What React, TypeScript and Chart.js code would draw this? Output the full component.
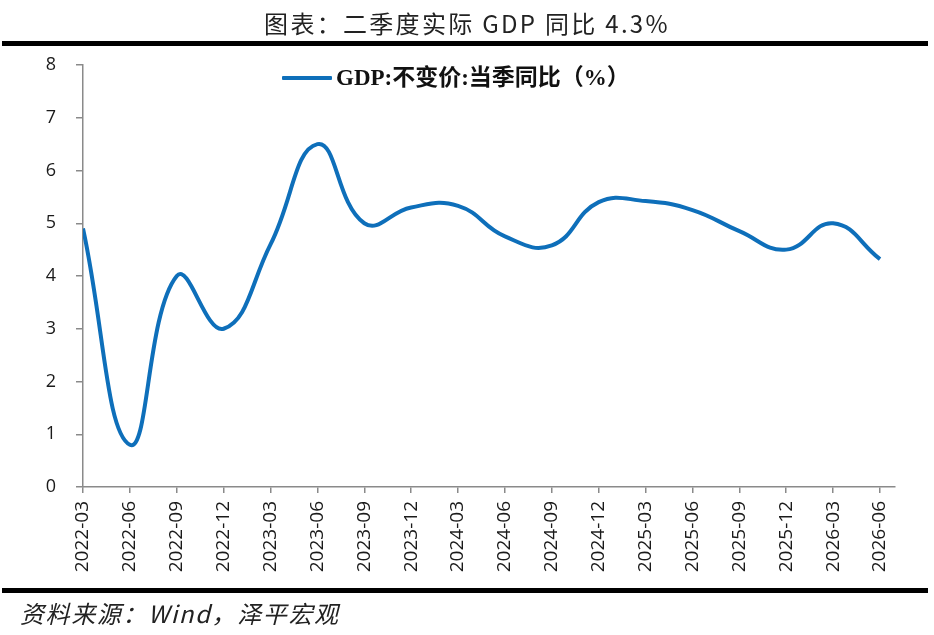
import React, { useEffect, useRef } from 'react';
import Chart from 'chart.js/auto';

// quarterly labels shown on the x axis
const quarters = [
  '2022-03', '2022-06', '2022-09', '2022-12',
  '2023-03', '2023-06', '2023-09', '2023-12',
  '2024-03', '2024-06', '2024-09', '2024-12',
  '2025-03', '2025-06', '2025-09', '2025-12',
  '2026-03', '2026-06',
];
// GDP:不变价:当季同比 (%)
const gdpYoy = [
  4.9, 0.8, 4.0, 3.0,
  4.6, 6.5, 5.0, 5.3,
  5.33, 4.75, 4.58, 5.4,
  5.42, 5.25, 4.85, 4.5,
  5.0, 4.32,
];
const yTicks = [0, 1, 2, 3, 4, 5, 6, 7, 8];

const TITLE = '图表：二季度实际 GDP 同比 4.3%';
const LEGEND = 'GDP:不变价:当季同比（%）';
const SOURCE = '资料来源：Wind，泽平宏观';

const BLUE = '#0E6FBA';
const AXIS = '#8a8a8a';
const CJK = '"Noto Sans CJK SC", "Noto Sans", sans-serif';

export default function App() {
  const canvasRef = useRef<HTMLCanvasElement | null>(null);

  useEffect(() => {
    document.body.style.margin = '0';
    const ctx = canvasRef.current!.getContext('2d')!;
    const tickFont = { family: '"Open Sans", "Noto Sans", sans-serif', size: 18 };
    const chart = new Chart(ctx, {
      type: 'line',
      data: {
        datasets: [{
          label: LEGEND,
          data: gdpYoy.map((v, i) => ({ x: i, y: v })),
          borderColor: BLUE,
          borderWidth: 4,
          pointRadius: 0,
          tension: 0.45,
          fill: false,
        }],
      },
      options: {
        animation: false,
        responsive: false,
        layout: { padding: { left: 0, top: 65, right: 39, bottom: 48 } },
        plugins: { legend: { display: false }, tooltip: { enabled: false } },
        scales: {
          x: {
            type: 'linear',
            min: 0,
            max: 17.32,
            afterFit: (s: any) => { s.height = 100; },
            afterBuildTicks: (s: any) => { s.ticks = quarters.map((_, i) => ({ value: i })); },
            ticks: {
              autoSkip: false,
              minRotation: 90,
              maxRotation: 90,
              padding: 8,
              color: '#1a1a1a',
              font: { ...tickFont, size: 19 },
              callback: (_v: any, i: number) => quarters[i],
            },
            grid: { drawOnChartArea: false, drawTicks: true, tickLength: 6, color: AXIS, lineWidth: 1.5 },
            border: { color: AXIS, width: 1.5 },
          },
          y: {
            min: yTicks[0],
            max: yTicks[yTicks.length - 1],
            afterFit: (s: any) => { s.width = 83; },
            afterBuildTicks: (s: any) => { s.ticks = yTicks.map((v) => ({ value: v })); },
            ticks: { padding: 20, color: '#1a1a1a', font: tickFont },
            grid: { drawOnChartArea: false, drawTicks: true, tickLength: 7, color: AXIS, lineWidth: 1.5 },
            border: { color: AXIS, width: 1.5 },
          },
        },
      },
    });
    return () => { chart.destroy(); };
  }, []);

  return (
    <div style={{ position: 'relative', width: 934, height: 635, background: '#fff', overflow: 'hidden' }}>
      <canvas ref={canvasRef} width={934} height={635} style={{ position: 'absolute', left: 0, top: 0, display: 'block' }} />
      <div style={{ position: 'absolute', left: 0, top: 10, width: 934, textAlign: 'center', fontFamily: CJK, fontSize: 24, lineHeight: '26px', letterSpacing: 2.3, color: '#222', whiteSpace: 'pre' }}>{TITLE}</div>
      <div style={{ position: 'absolute', left: 2, top: 41, width: 926, height: 5, background: '#000' }} />
      <div style={{ position: 'absolute', left: 282, top: 76, width: 50, height: 4, background: BLUE, borderRadius: 1 }} />
      <div style={{ position: 'absolute', left: 336, top: 65, fontFamily: '"Liberation Serif", "Noto Sans CJK SC", serif', fontWeight: 'bold', fontSize: 23, lineHeight: '25px', color: '#111', whiteSpace: 'pre' }}>{LEGEND}</div>
      <div style={{ position: 'absolute', left: 2, top: 588, width: 926, height: 5, background: '#000' }} />
      <div style={{ position: 'absolute', left: 20, top: 600, fontFamily: CJK, fontStyle: 'italic', fontSize: 24, lineHeight: '26px', letterSpacing: 1.6, color: '#222', whiteSpace: 'pre' }}>{SOURCE}</div>
    </div>
  );
}
